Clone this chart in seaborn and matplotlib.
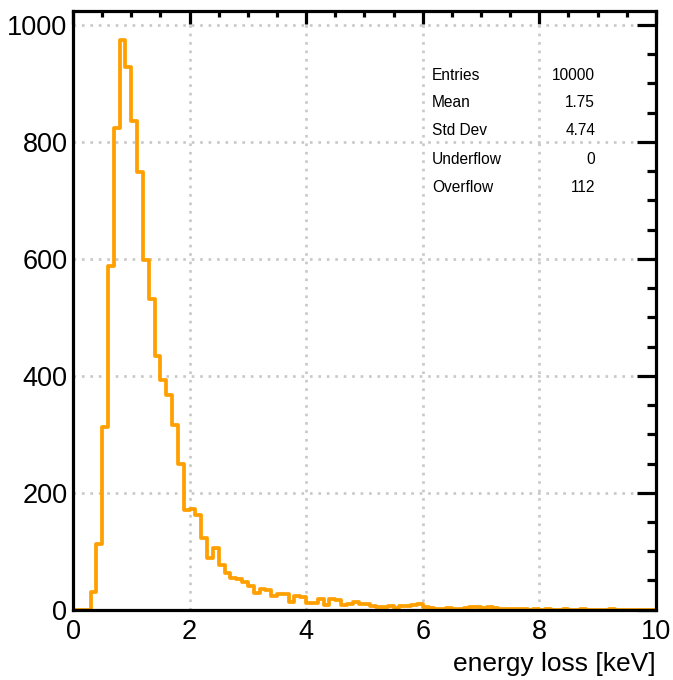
import numpy as np
import pandas as pd
import seaborn as sns
import matplotlib.pyplot as plt
from matplotlib.ticker import MultipleLocator

# histogram contents, 100 bins of 0.1 keV from 0 to 10
counts = [0, 0, 0, 30, 112, 312, 588, 824, 975, 928,
          836, 748, 598, 532, 434, 393, 367, 315, 250, 170,
          172, 162, 123, 89, 105, 77, 63, 55, 53, 48,
          40, 28, 35, 34, 23, 26, 26, 14, 24, 21,
          11, 12, 19, 8, 18, 17, 8, 10, 14, 10,
          9, 7, 5, 4, 7, 3, 7, 6, 8, 9,
          5, 3, 2, 2, 3, 2, 2, 3, 5, 4,
          3, 5, 3, 2, 1, 2, 1, 1, 0, 1,
          0, 1, 0, 0, 1, 0, 0, 1, 0, 0,
          0, 0, 1, 0, 0, 0, 0, 0, 0, 0]
x_min, x_max, n_bins = 0, 10, 100

stat_names = ["Entries", "Mean", "Std Dev", "Underflow", "Overflow"]
stat_values = ["10000", "1.75", "4.74", "0", "112"]

sns.set_style("white")
plt.rcParams['font.family'] = ['Liberation Sans', 'DejaVu Sans']
plt.rcParams.update({"text.color": "black", "axes.labelcolor": "black",
                     "xtick.color": "black", "ytick.color": "black"})

edges = np.linspace(x_min, x_max, n_bins + 1)
df = pd.DataFrame({"energy": 0.5 * (edges[:-1] + edges[1:]),
                   "n": np.asarray(counts, dtype=float)})

fig = plt.figure(figsize=(6.73, 6.80), dpi=100)
ax = fig.add_axes([0.1085, 0.1034, 0.866, 0.8797])

# grid first so the histogram sits on top
ax.set_axisbelow(True)
ax.grid(True, color="#c8c8c8", linestyle=(0, (1, 2.2)), linewidth=1.9)

sns.histplot(data=df, x="energy", weights="n", binwidth=(x_max - x_min) / n_bins,
             binrange=(x_min, x_max), element="step",
             fill=False, color="#ffa000", linewidth=2.7, ax=ax)

ax.set_xlim(x_min, x_max)
ax.set_ylim(0, 1023)
ax.set_ylabel("")
ax.set_xlabel("energy loss [keV]", fontsize=19, loc="right", labelpad=5)

ax.xaxis.set_major_locator(MultipleLocator(2))
ax.xaxis.set_minor_locator(MultipleLocator(0.5))
ax.yaxis.set_major_locator(MultipleLocator(200))
ax.yaxis.set_minor_locator(MultipleLocator(50))

for s in ax.spines.values():
    s.set_visible(True)
    s.set_linewidth(2.3)
    s.set_color("black")

ax.tick_params(axis="both", which="both", direction="in", top=True, right=True,
               width=2.3, color="black", labelsize=19.5, labelcolor="black")
ax.tick_params(axis="y", which="major", length=13.5, pad=4)
ax.tick_params(axis="y", which="minor", length=6.5)
ax.tick_params(axis="x", which="major", length=9.5, pad=7)
ax.tick_params(axis="x", which="minor", length=4.5)

# stats box (no frame)
row_y = [0.893, 0.848, 0.801, 0.753, 0.706]
for name, val, yy in zip(stat_names, stat_values, row_y):
    ax.text(0.616, yy, name, transform=ax.transAxes, fontsize=11.2,
            ha="left", va="center")
    ax.text(0.896, yy, val, transform=ax.transAxes, fontsize=11.2,
            ha="right", va="center")

plt.savefig("out.png", dpi=100)
